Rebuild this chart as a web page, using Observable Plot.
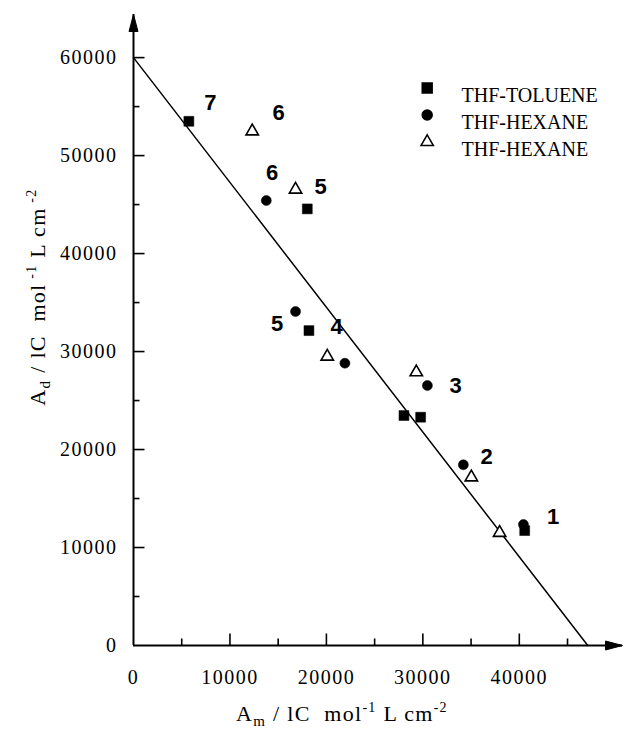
<!DOCTYPE html>
<html>
<head>
<meta charset="utf-8">
<script src="https://cdn.jsdelivr.net/npm/d3@7"></script>
<script src="https://cdn.jsdelivr.net/npm/@observablehq/plot@0.6"></script>
<style>
  html, body { margin: 0; padding: 0; background: #fff; }
  #chart { width: 636px; height: 730px; }
</style>
</head>
<body>
<div id="chart"></div>
<script>
// ---- Data ----
const tolueneX = [5740, 18020, 18190, 28040, 29770, 40560];
const tolueneY = [53500, 44560, 32140, 23470, 23300, 11730];

const hexaneCircleX = [13770, 16800, 21920, 30470, 34200, 40430];
const hexaneCircleY = [45410, 34080, 28810, 26530, 18440, 12350];

const hexaneTriX = [12310, 16800, 20090, 29320, 35030, 37960];
const hexaneTriY = [52480, 46530, 29490, 27890, 17170, 11500];

const labelText = ["7", "6", "6", "5", "5", "4", "3", "2", "1"];
const labelX = [7980, 15040, 14380, 19400, 14900, 21060, 33400, 36620, 43520];
const labelY = [55410, 54390, 48190, 46770, 32860, 32480, 26530, 19290, 13160];

const fitX = [0, 47100];
const fitY = [60000, 0];

const xTickLabels = [0, 10000, 20000, 30000, 40000];
const yTickLabels = [0, 10000, 20000, 30000, 40000, 50000, 60000];
const xMinorTicks = [5000, 15000, 25000, 35000, 45000];
const yMinorTicks = [5000, 15000, 25000, 35000, 45000, 55000];

const legendNames = ["THF-TOLUENE", "THF-HEXANE", "THF-HEXANE"];

const xMax = 50700, yMax = 64400;

// ---- helpers ----
const pts = (xs, ys) => xs.map((x, i) => ({x, y: ys[i]}));
const tickUp = (L) => ({draw(ctx) { ctx.moveTo(0, 0); ctx.lineTo(0, -L); }});
const tickRight = (L) => ({draw(ctx) { ctx.moveTo(0, 0); ctx.lineTo(L, 0); }});
const arrowHead = {draw(ctx) { ctx.moveTo(0, 0); ctx.lineTo(4.5, 17); ctx.lineTo(-4.5, 17); ctx.closePath(); }};

const serif = "Liberation Serif, Times New Roman, serif";
const sans = "Liberation Sans, Arial, sans-serif";

const legendSymbols = [
  {symbol: "square", fill: "black", stroke: "black", r: 5.6},
  {symbol: "circle", fill: "black", stroke: "black", r: 5},
  {symbol: "triangle", fill: "white", stroke: "black", r: 4.6}
];

const legendMarks = legendNames.flatMap((name, i) => [
  Plot.dot([name], {frameAnchor: "top-left", dx: 293.7, dy: 73.5 + i * 27, symbol: legendSymbols[i].symbol,
    r: legendSymbols[i].r, fill: legendSymbols[i].fill, stroke: legendSymbols[i].stroke, strokeWidth: 1.5}),
  Plot.text([name], {frameAnchor: "top-left", dx: 328, dy: 73.5 + i * 27, text: d => d, textAnchor: "start",
    fontSize: 20, fill: "black", fontFamily: serif})
]);

const plot = Plot.plot({
  width: 636,
  height: 730,
  marginLeft: 133,
  marginRight: 14,
  marginTop: 14,
  marginBottom: 85,
  x: {domain: [0, xMax]},
  y: {domain: [0, yMax]},
  style: {background: "white", color: "black", overflow: "visible", fontFamily: serif},
  marks: [
    // axes
    Plot.ruleY([0], {strokeWidth: 2}),
    Plot.ruleX([0], {strokeWidth: 2}),
    Plot.dot([xMax], {x: d => d, y: 0, symbol: arrowHead, rotate: 90, fill: "black", stroke: "black", strokeWidth: 1}),
    Plot.dot([yMax], {x: 0, y: d => d, symbol: arrowHead, fill: "black", stroke: "black", strokeWidth: 1}),
    // ticks (inward)
    Plot.dot(xTickLabels.slice(1), {x: d => d, y: 0, symbol: tickUp(12), stroke: "black", strokeWidth: 1.6, fill: "none"}),
    Plot.dot(xMinorTicks, {x: d => d, y: 0, symbol: tickUp(7), stroke: "black", strokeWidth: 1.6, fill: "none"}),
    Plot.dot(yTickLabels.slice(1), {x: 0, y: d => d, symbol: tickRight(11), stroke: "black", strokeWidth: 1.6, fill: "none"}),
    Plot.dot(yMinorTicks, {x: 0, y: d => d, symbol: tickRight(6), stroke: "black", strokeWidth: 1.6, fill: "none"}),
    // tick labels
    Plot.axisX({ticks: xTickLabels, tickSize: 0, tickPadding: 24, fontSize: 20, label: null, tickFormat: d => String(d), fontFamily: serif}),
    Plot.axisY({ticks: yTickLabels, tickSize: 0, tickPadding: 16, fontSize: 20, label: null, tickFormat: d => String(d), fontFamily: serif}),
    // fitted line
    Plot.line(pts(fitX, fitY), {x: "x", y: "y", stroke: "black", strokeWidth: 1.5}),
    // data
    Plot.dot(pts(tolueneX, tolueneY), {x: "x", y: "y", symbol: "square", r: 5.6, fill: "black", stroke: "black", strokeWidth: 0.5}),
    Plot.dot(pts(hexaneCircleX, hexaneCircleY), {x: "x", y: "y", symbol: "circle", r: 5, fill: "black", stroke: "black", strokeWidth: 0.5}),
    Plot.dot(pts(hexaneTriX, hexaneTriY), {x: "x", y: "y", symbol: "triangle", r: 4.6, fill: "white", stroke: "black", strokeWidth: 1.6}),
    // number labels
    Plot.text(labelText.map((t, i) => ({t, x: labelX[i], y: labelY[i]})), {x: "x", y: "y", text: "t",
      fontSize: 22, fontWeight: "bold", fill: "black", fontFamily: sans}),
    ...legendMarks
  ]
});

document.getElementById("chart").appendChild(plot);

const svg = d3.select(plot);

svg.selectAll("g[aria-label='x-axis tick label'] text, g[aria-label='y-axis tick label'] text")
  .attr("letter-spacing", 1.5);

// axis titles with sub/superscripts
function addTitle(sel, sub) {
  sel.append("tspan").text("A");
  sel.append("tspan").attr("font-size", 15).attr("dy", 5).text(sub);
  sel.append("tspan").attr("dy", -5).text(" / lC  mol");
  sel.append("tspan").attr("font-size", 14).attr("dy", -9).text(sub === "d" ? " -1" : "-1");
  sel.append("tspan").attr("dy", 9).text(" L cm");
  sel.append("tspan").attr("font-size", 14).attr("dy", -9).text(sub === "d" ? " -2" : "-2");
}

const xt = svg.append("text")
  .attr("x", 342).attr("y", 721)
  .attr("text-anchor", "middle")
  .attr("letter-spacing", 1.3)
  .style("font-family", serif).attr("font-size", 22).attr("fill", "black");
addTitle(xt, "m");

const yt = svg.append("text")
  .attr("transform", "translate(45,297) rotate(-90)")
  .attr("text-anchor", "middle")
  .attr("letter-spacing", 1.3)
  .style("font-family", serif).attr("font-size", 22).attr("fill", "black");
addTitle(yt, "d");
</script>
</body>
</html>
